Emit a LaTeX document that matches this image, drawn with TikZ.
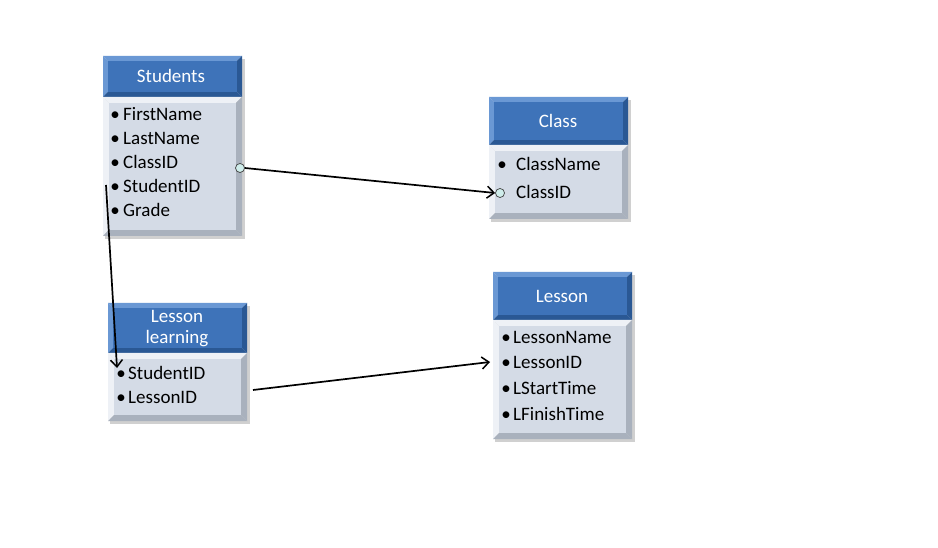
\documentclass[tikz,border=0pt]{standalone}
\usepackage{fontspec}
\setmainfont{Carlito}
\usetikzlibrary{arrows.meta,calc}
\definecolor{hdface}{HTML}{3E73B9}
\definecolor{hdlight}{HTML}{6A98D4}
\definecolor{hddark}{HTML}{2A5894}
\definecolor{bdface}{HTML}{D4DBE6}
\definecolor{bdlight}{HTML}{EEF1F6}
\definecolor{bddark}{HTML}{A9B1BD}
\definecolor{knob}{HTML}{CFEDEB}
\newcommand\bevel[5]{%
  \fill[#2] (#1.north west) -- (#1.north east) -- ([shift={(-#5,#5)}]#1.north east) -- ([shift={(#5,#5)}]#1.north west) -- cycle;
  \fill[#2] (#1.north west) -- ([shift={(#5,#5)}]#1.north west) -- ([shift={(#5,-#5)}]#1.south west) -- (#1.south west) -- cycle;
  \fill[#3] (#1.north east) -- (#1.south east) -- ([shift={(-#5,-#5)}]#1.south east) -- ([shift={(-#5,#5)}]#1.north east) -- cycle;
  \fill[#3] (#1.south west) -- ([shift={(#5,-#5)}]#1.south west) -- ([shift={(-#5,-#5)}]#1.south east) -- (#1.south east) -- cycle;
  \fill[#4] ([shift={(#5,#5)}]#1.north west) rectangle ([shift={(-#5,-#5)}]#1.south east);
}
\tikzset{
  boxpart/.style={anchor=north west, inner sep=0pt, minimum width=139pt, outer sep=0pt},
  shadowbox/.style={fill=black!30, opacity=0.6},
  title/.style={font=\fontsize{19}{21}\selectfont, text=white, align=center},
  item/.style={font=\fontsize{19}{21}\selectfont, anchor=base west, inner sep=0pt},
  dot/.style={font=\fontsize{19}{21}\selectfont, anchor=base, inner sep=0pt},
  link/.style={line width=1.7pt, -{Straight Barb[length=7pt,width=12pt,line width=1.5pt]}},
  knobc/.style={circle, draw=black!75, fill=knob, minimum size=9pt, inner sep=0pt, line width=0.7pt}
}
\begin{document}
\begin{tikzpicture}[x=1pt,y=-1pt]
\useasboundingbox[fill=white] (0,0) rectangle (938,548);
% ---------- Students
\fill[shadowbox] (105,59) rectangle (245,239);
\node[boxpart, minimum height=41pt] (sth) at (103,56) {};
\node[boxpart, minimum height=139pt] (stb) at (103,97) {};
\bevel{sth}{hdlight}{hddark}{hdface}{5}
\bevel{stb}{bdlight}{bddark}{bdface}{6}
\node[title] (stt) at (171,76) {Students};
\node[dot] (sd1) at (115,121) {•};
\node[item] (si1) at (123,121) {FirstName};
\node[dot] (sd2) at (115,145) {•};
\node[item] (si2) at (123,145) {LastName};
\node[dot] (sd3) at (115,169) {•};
\node[item] (si3) at (123,169) {ClassID};
\node[dot] (sd4) at (115,193) {•};
\node[item] (si4) at (123,193) {StudentID};
\node[dot] (sd5) at (115,217) {•};
\node[item] (si5) at (123,217) {Grade};
% ---------- Class
\fill[shadowbox] (491,100) rectangle (631,222);
\node[boxpart, minimum height=48pt] (clh) at (489,97) {};
\node[boxpart, minimum height=74pt] (clb) at (489,145) {};
\bevel{clh}{hdlight}{hddark}{hdface}{5}
\bevel{clb}{bdlight}{bddark}{bdface}{6}
\node[title] (clt) at (558,121) {Class};
\node[dot] (cd1) at (502,171) {•};
\node[item] (ci1) at (516,171) {ClassName};
\node[item] (ci2) at (516,199) {ClassID};
% ---------- Lesson learning
\fill[shadowbox] (110,306) rectangle (250,424);
\node[boxpart, minimum height=50pt] (llh) at (108,303) {};
\node[boxpart, minimum height=68pt] (llb) at (108,353) {};
\bevel{llh}{hdlight}{hddark}{hdface}{5}
\bevel{llb}{bdlight}{bddark}{bdface}{6}
\node[title] (llt) at (177,329) {Lesson\\learning};
\node[dot] (ld1) at (121,379) {•};
\node[item] (li1) at (128,379) {StudentID};
\node[dot] (ld2) at (121,403) {•};
\node[item] (li2) at (128,403) {LessonID};
% ---------- Lesson
\fill[shadowbox] (495,275) rectangle (635,442);
\node[boxpart, minimum height=48pt] (leh) at (493,272) {};
\node[boxpart, minimum height=119pt] (leb) at (493,320) {};
\bevel{leh}{hdlight}{hddark}{hdface}{5}
\bevel{leb}{bdlight}{bddark}{bdface}{6}
\node[title] (let) at (562,296) {Lesson};
\node[dot] (ed1) at (506,344) {•};
\node[item] (ei1) at (513,344) {LessonName};
\node[dot] (ed2) at (506,369) {•};
\node[item] (ei2) at (513,369) {LessonID};
\node[dot] (ed3) at (506,395) {•};
\node[item] (ei3) at (513,395) {LStartTime};
\node[dot] (ed4) at (506,420) {•};
\node[item] (ei4) at (513,420) {LFinishTime};
% ---------- connectors
\node[knobc] (sk) at (240,168) {};
\node[knobc] (ck) at (500,193) {};
\draw[link] (sk.east) -- (ck.west);
\coordinate (s2) at (106,185);
\coordinate (l2) at (117,368);
\draw[link] (s2) -- (l2);
\coordinate (l3) at (253,390);
\coordinate (e3) at (490,362);
\draw[link] (l3) -- (e3);
\end{tikzpicture}
\end{document}
